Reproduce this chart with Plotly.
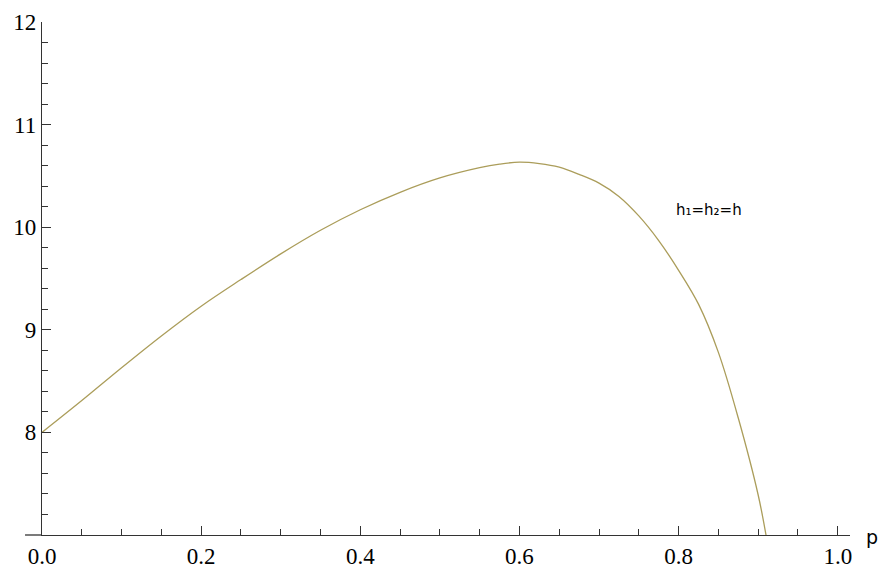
import plotly.graph_objects as go

# curve values
p_vals = [0.0, 0.05, 0.10, 0.15, 0.20, 0.25, 0.30, 0.35, 0.40, 0.45, 0.50,
          0.55, 0.575, 0.60, 0.625, 0.65, 0.675, 0.70, 0.725, 0.75, 0.775,
          0.80, 0.825, 0.85, 0.875, 0.90, 0.9103]
y_vals = [8.00, 8.31, 8.63, 8.94, 9.23, 9.49, 9.74, 9.97, 10.17, 10.34, 10.48,
          10.58, 10.615, 10.634, 10.62, 10.585, 10.515, 10.43, 10.30, 10.11, 9.87,
          9.58, 9.25, 8.78, 8.14, 7.39, 6.98]

x_ticks = [0.0, 0.2, 0.4, 0.6, 0.8, 1.0]
x_tick_labels = ["0.0", "0.2", "0.4", "0.6", "0.8", "1.0"]
y_ticks = [8, 9, 10, 11, 12]
y_tick_labels = ["8", "9", "10", "11", "12"]

axis_color = "#333333"
tick_font = dict(family="Liberation Serif", size=23, color="#000000")

fig = go.Figure()
fig.add_trace(go.Scatter(
    x=p_vals, y=y_vals, mode="lines",
    line=dict(color="#ab9d5a", width=1.3, shape="spline", smoothing=1.0),
    hoverinfo="skip", showlegend=False,
))

fig.update_layout(
    width=879, height=567,
    margin=dict(l=42, r=29, t=22, b=32, autoexpand=False),
    paper_bgcolor="white", plot_bgcolor="white",
    xaxis=dict(
        range=[0, 1.0154], showgrid=False, zeroline=False, automargin=False,
        showline=True, linecolor=axis_color, linewidth=1.3,
        tickmode="array", tickvals=x_ticks, ticktext=x_tick_labels,
        ticks="inside", ticklen=9, tickwidth=1.2, tickcolor=axis_color,
        tickfont=tick_font,
        minor=dict(dtick=0.05, tick0=0, ticks="inside", ticklen=6,
                   tickwidth=1.1, tickcolor=axis_color, showgrid=False),
    ),
    yaxis=dict(
        range=[7, 12], showgrid=False, zeroline=False, automargin=False,
        showline=True, linecolor=axis_color, linewidth=1.3,
        tickmode="array", tickvals=y_ticks, ticktext=y_tick_labels,
        ticks="inside", ticklen=9, tickwidth=1.2, tickcolor=axis_color,
        tickfont=tick_font,
        minor=dict(dtick=0.2, tick0=7, ticks="inside", ticklen=6,
                   tickwidth=1.1, tickcolor=axis_color, showgrid=False),
    ),
    shapes=[dict(type="line", xref="paper", yref="paper",
                 x0=-0.021, x1=0, y0=0, y1=0,
                 line=dict(color=axis_color, width=1.3))],
    annotations=[
        dict(text="p", xref="paper", yref="paper", x=1.0, y=0.0,
             xanchor="left", yanchor="middle", xshift=14, yshift=-2,
             showarrow=False,
             font=dict(family="DejaVu Sans", size=19, color="#000000")),
        dict(text="h₁=h₂=h", x=0.838, y=10.17, xref="x", yref="y",
             showarrow=False,
             font=dict(family="DejaVu Sans", size=15, color="#000000")),
    ],
)

fig.write_html(
    "out.html",
    config={"displayModeBar": False},
    post_script="document.body.style.margin='0';document.body.style.padding='0';",
)
